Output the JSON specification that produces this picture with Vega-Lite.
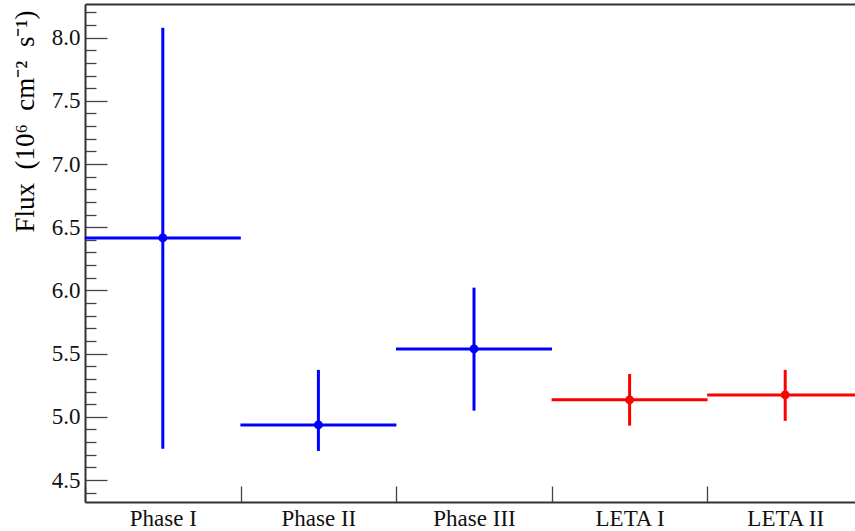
{
  "$schema": "https://vega.github.io/schema/vega-lite/v6.json",
  "width": 770,
  "height": 498,
  "autosize": {"type": "none"},
  "padding": {"left": 85, "top": 4, "right": 0, "bottom": 29},
  "background": "white",
  "config": {"view": {"stroke": null}, "font": "Liberation Serif"},
  "data": {
    "values": [
      {"phase": "Phase I", "group": "Phase", "flux": 6.415, "lo": 4.748, "hi": 8.079},
      {"phase": "Phase II", "group": "Phase", "flux": 4.936, "lo": 4.73, "hi": 5.371},
      {"phase": "Phase III", "group": "Phase", "flux": 5.537, "lo": 5.049, "hi": 6.022},
      {"phase": "LETA I", "group": "LETA", "flux": 5.134, "lo": 4.93, "hi": 5.339},
      {"phase": "LETA II", "group": "LETA", "flux": 5.173, "lo": 4.968, "hi": 5.371}
    ]
  },
  "resolve": {"axis": {"x": "independent", "y": "independent"}},
  "layer": [
    {
      "mark": {"type": "rule", "strokeWidth": 3},
      "encoding": {
        "x": {
          "field": "phase", "type": "nominal", "sort": null,
          "scale": {"range": [0, 778], "paddingInner": 0, "paddingOuter": 0},
          "axis": {
            "orient": "bottom", "title": null, "labelAngle": 0, "tickBand": "extent",
            "tickSize": -16, "tickColor": "#444", "tickWidth": 1.3,
            "domainColor": "#333", "domainWidth": 2,
            "labelFont": "Liberation Serif", "labelFontSize": 23, "labelColor": "#111", "labelPadding": 21
          }
        },
        "y": {
          "field": "lo", "type": "quantitative",
          "scale": {"domain": [4.326, 8.266], "nice": false, "zero": false},
          "axis": {
            "orient": "left",
            "values": [4.4,4.5,4.6,4.7,4.8,4.9,5.0,5.1,5.2,5.3,5.4,5.5,5.6,5.7,5.8,5.9,6.0,6.1,6.2,6.3,6.4,6.5,6.6,6.7,6.8,6.9,7.0,7.1,7.2,7.3,7.4,7.5,7.6,7.7,7.8,7.9,8.0,8.1,8.2],
            "labelExpr": "abs(datum.value*2 - round(datum.value*2)) < 0.01 ? format(datum.value, '.1f') : ''",
            "tickSize": {"condition": {"test": "abs(datum.value*2 - round(datum.value*2)) < 0.01", "value": -22}, "value": -11},
            "tickColor": "#444", "tickWidth": 1.3,
            "domainColor": "#333", "domainWidth": 2,
            "grid": false,
            "labelFont": "Liberation Serif", "labelFontSize": 23, "labelColor": "#111", "labelPadding": 27,
            "title": "Flux\u00a0\u00a0(10⁶\u00a0\u00a0cm⁻²\u00a0\u00a0s⁻¹)",
            "titleFont": "Liberation Serif", "titleFontSize": 27, "titleFontWeight": "normal", "titleColor": "#000",
            "titleAnchor": "end", "titleY": 6, "titlePadding": 12
          }
        },
        "y2": {"field": "hi"},
        "color": {"field": "group", "type": "nominal", "scale": {"domain": ["Phase", "LETA"], "range": ["#0000ff", "#ff0000"]}, "legend": null}
      }
    },
    {
      "mark": {"type": "tick", "thickness": 3, "size": 156, "opacity": 1},
      "encoding": {
        "x": {"field": "phase", "type": "nominal", "sort": null, "axis": null},
        "y": {"field": "flux", "type": "quantitative", "axis": null},
        "color": {"field": "group", "type": "nominal", "legend": null}
      }
    },
    {
      "mark": {"type": "point", "filled": true, "size": 80, "opacity": 1},
      "encoding": {
        "x": {
          "field": "phase", "type": "nominal", "sort": null,
          "axis": {"orient": "top", "title": null, "labels": false, "ticks": false, "domain": true, "domainColor": "#333", "domainWidth": 2}
        },
        "y": {"field": "flux", "type": "quantitative", "axis": null},
        "color": {"field": "group", "type": "nominal", "legend": null}
      }
    }
  ]
}
